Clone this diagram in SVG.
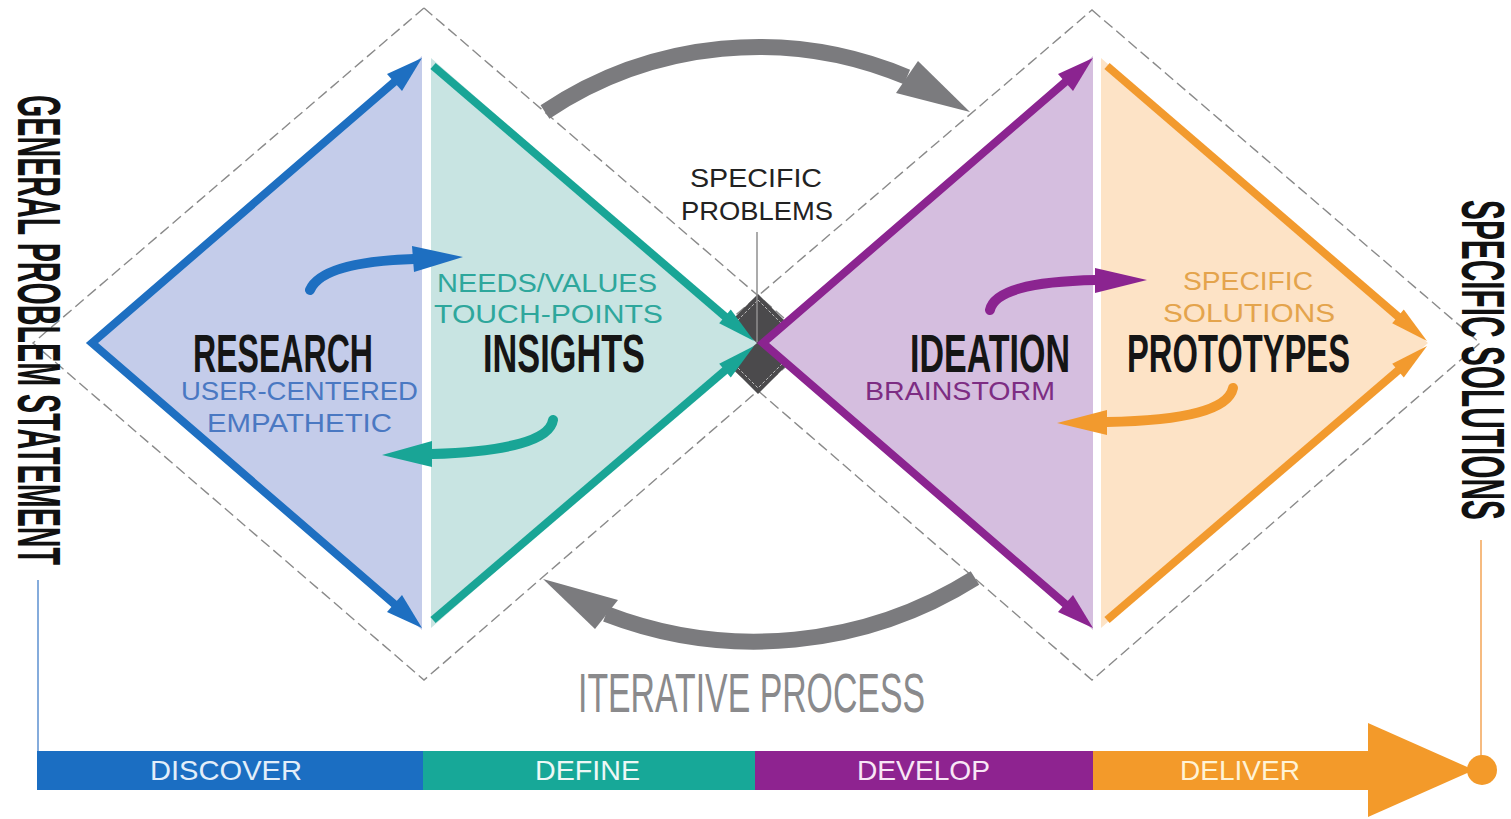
<svg xmlns="http://www.w3.org/2000/svg" width="1511" height="819" viewBox="0 0 1511 819">
<style>
.dash{fill:none;stroke:#8a8a8a;stroke-width:1.4;stroke-dasharray:11 5}
.title{font-family:"Liberation Sans",Arial,sans-serif;font-weight:700;font-size:54px;fill:#151515}
.side{font-family:"Liberation Sans",Arial,sans-serif;font-weight:700;font-size:61px;fill:#111}
.sub{font-family:"Liberation Sans",Arial,sans-serif;font-size:25px}
.barlbl{font-family:"Liberation Sans",Arial,sans-serif;font-size:28px}
.edge{fill:none;stroke-width:8;stroke-linejoin:miter;stroke-miterlimit:10}
.curve{fill:none;stroke-width:10;stroke-linecap:round}
.gray{fill:none;stroke:#7b7b7e;stroke-width:16}
</style>
<rect width="1511" height="819" fill="#ffffff"/>

<g id="outlines">
  <polygon class="dash" points="424,8 813,343 424,680 33,343"/>
  <polygon class="dash" points="1092,10 1480,343 1092,680 703,343"/>
</g>

<g id="node-center">
  <polygon points="758,294 808,344 758,394 708,344" fill="#4b4a4c"/>
  <polygon points="758,300 802,344 758,388 714,344" fill="none" stroke="#bdbdbd" stroke-width="1" stroke-dasharray="3 2"/>
  <line x1="757" y1="232" x2="757" y2="342" stroke="#8f8f8f" stroke-width="1.5"/>
  <text class="sub" x="690" y="187" fill="#222" textLength="132" lengthAdjust="spacingAndGlyphs">SPECIFIC</text>
  <text class="sub" x="681" y="220" fill="#222" textLength="152" lengthAdjust="spacingAndGlyphs">PROBLEMS</text>
</g>

<g id="node-research">
  <polygon points="92,343 422,56 422,630" fill="#c4ccea"/>
  <path class="edge" stroke="#1e6fc1" d="M399.3,77.6 L92,343 L399.3,608.4"/>
  <polygon points="387,74 422,58 402,91" fill="#1e6fc1"/>
  <polygon points="387,612 422,628 402,595" fill="#1e6fc1"/>
  <text class="title" x="193" y="372" textLength="180" lengthAdjust="spacingAndGlyphs">RESEARCH</text>
  <text class="sub" x="181" y="400" fill="#4a78c2" textLength="237" lengthAdjust="spacingAndGlyphs">USER-CENTERED</text>
  <text class="sub" x="207" y="432" fill="#4a78c2" textLength="185" lengthAdjust="spacingAndGlyphs">EMPATHETIC</text>
</g>

<g id="node-insights">
  <polygon points="431,58 757,343 431,628" fill="#c8e4e2"/>
  <path class="edge" stroke="#19a596" d="M433,66 L731,321.6"/>
  <path class="edge" stroke="#19a596" d="M433,620 L731,365.4"/>
  <polygon points="719.2,323.3 754,341 730.8,309.5" fill="#19a596"/>
  <polygon points="730.8,377.5 754,346 719.2,363.7" fill="#19a596"/>
  <text class="sub" x="437" y="292" fill="#2ea79c" textLength="220" lengthAdjust="spacingAndGlyphs">NEEDS/VALUES</text>
  <text class="sub" x="434" y="323" fill="#2ea79c" textLength="229" lengthAdjust="spacingAndGlyphs">TOUCH-POINTS</text>
  <text class="title" x="483" y="372" textLength="162" lengthAdjust="spacingAndGlyphs">INSIGHTS</text>
</g>

<g id="node-ideation">
  <polygon points="763,343 1093,56 1093,630" fill="#d5bedf"/>
  <path class="edge" stroke="#8b2490" d="M1070.3,77.6 L763,343 L1070.3,608.4"/>
  <polygon points="1058,74 1093,58 1073,91" fill="#8b2490"/>
  <polygon points="1058,612 1093,628 1073,595" fill="#8b2490"/>
  <text class="title" x="910" y="372" textLength="160" lengthAdjust="spacingAndGlyphs">IDEATION</text>
  <text class="sub" x="865" y="400" fill="#7d2d83" textLength="190" lengthAdjust="spacingAndGlyphs">BRAINSTORM</text>
</g>

<g id="node-prototypes">
  <polygon points="1101,58 1428,343 1101,628" fill="#fde3c6"/>
  <path class="edge" stroke="#f29a2e" d="M1107,66 L1404,321.6"/>
  <path class="edge" stroke="#f29a2e" d="M1107,620 L1404,365.4"/>
  <polygon points="1392.2,323.3 1427,341 1403.8,309.5" fill="#f29a2e"/>
  <polygon points="1403.8,377.5 1427,346 1392.2,363.7" fill="#f29a2e"/>
  <text class="sub" x="1183" y="290" fill="#e4a44c" textLength="130" lengthAdjust="spacingAndGlyphs">SPECIFIC</text>
  <text class="sub" x="1163" y="322" fill="#e4a44c" textLength="172" lengthAdjust="spacingAndGlyphs">SOLUTIONS</text>
  <text class="title" x="1127" y="372" textLength="223" lengthAdjust="spacingAndGlyphs">PROTOTYPES</text>
</g>

<g id="connectors">
  <path class="gray" d="M545,112 A383,383 0 0,1 907,77"/>
  <polygon points="918,61 970,112 896,93" fill="#7b7b7e"/>
  <path class="gray" d="M975,578 A414,414 0 0,1 606,614"/>
  <polygon points="543,579 618,600 595,629" fill="#7b7b7e"/>

  <path class="curve" stroke="#1e6fc1" d="M310,290 Q322,262 414,259"/>
  <polygon points="412,246 463,257 414,272" fill="#1e6fc1"/>
  <path class="curve" stroke="#19a596" d="M553,420 Q548,450 432,454"/>
  <polygon points="432,441 382,455 432,467" fill="#19a596"/>
  <path class="curve" stroke="#8b2490" d="M990,310 Q996,282 1096,280"/>
  <polygon points="1095,268 1147,280 1095,293" fill="#8b2490"/>
  <path class="curve" stroke="#f29a2e" d="M1233,388 Q1226,420 1107,422"/>
  <polygon points="1107,410 1057,423 1107,435" fill="#f29a2e"/>
</g>

<g id="side-labels">
  <text class="side" transform="translate(18,95) rotate(90)" x="0" y="0" textLength="470" lengthAdjust="spacingAndGlyphs">GENERAL PROBLEM STATEMENT</text>
  <line x1="38" y1="580" x2="38" y2="752" stroke="#5d90d0" stroke-width="1.5"/>
  <text class="side" transform="translate(1462,200) rotate(90)" x="0" y="0" textLength="320" lengthAdjust="spacingAndGlyphs">SPECIFIC SOLUTIONS</text>
  <line x1="1481" y1="540" x2="1481" y2="760" stroke="#f3a556" stroke-width="1.5"/>
</g>

<g id="iterative-label">
  <text x="578" y="712" font-family="Liberation Sans, Arial, sans-serif" font-size="56" fill="#8a8a8c" textLength="347" lengthAdjust="spacingAndGlyphs">ITERATIVE PROCESS</text>
</g>

<g id="phase-bar">
  <rect x="37" y="751" width="387" height="39" fill="#1b6ec2"/>
  <rect x="423" y="751" width="333" height="39" fill="#17a898"/>
  <rect x="755" y="751" width="339" height="39" fill="#8e2390"/>
  <rect x="1093" y="751" width="277" height="39" fill="#f39a2a"/>
  <polygon points="1368,723 1474,770 1368,817" fill="#f39a2a"/>
  <circle cx="1482" cy="770" r="15" fill="#f39a2a"/>
  <text class="barlbl" x="150" y="780" fill="#e3eefa" textLength="152" lengthAdjust="spacingAndGlyphs">DISCOVER</text>
  <text class="barlbl" x="535" y="780" fill="#eef8f6" textLength="105" lengthAdjust="spacingAndGlyphs">DEFINE</text>
  <text class="barlbl" x="857" y="780" fill="#f8e6f6" textLength="133" lengthAdjust="spacingAndGlyphs">DEVELOP</text>
  <text class="barlbl" x="1180" y="780" fill="#fff3d6" textLength="120" lengthAdjust="spacingAndGlyphs">DELIVER</text>
</g>
</svg>
